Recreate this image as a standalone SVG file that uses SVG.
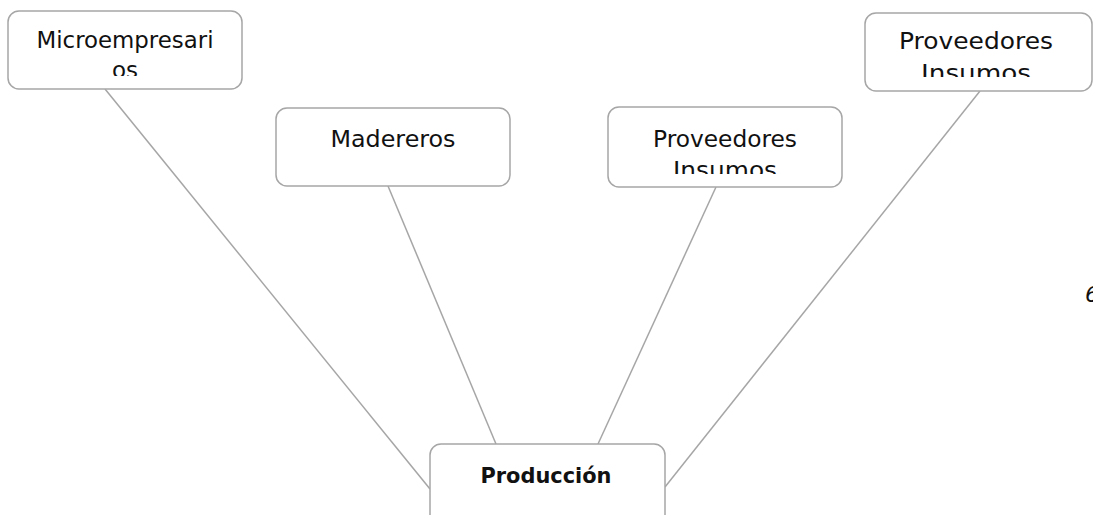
<svg xmlns="http://www.w3.org/2000/svg" width="1093" height="515" viewBox="0 0 1093 515">
<style>
.box{fill:#ffffff;stroke:#a6a6a6;stroke-width:1.5}
.lbl{font-family:"DejaVu Sans","Liberation Sans",sans-serif;font-size:23px;fill:#111111;text-anchor:middle}
.bold{font-family:"DejaVu Sans","Liberation Sans",sans-serif;font-size:22px;font-weight:bold;fill:#111111;text-anchor:middle}
.conn{stroke:#a6a6a6;stroke-width:1.5;fill:none}
</style>
<defs>
<clipPath id="c1"><rect x="8" y="11" width="234" height="65"/></clipPath>
<clipPath id="c3"><rect x="608" y="107" width="234" height="67"/></clipPath>
<clipPath id="c4"><rect x="865" y="13" width="228" height="64"/></clipPath>
</defs>
<g id="connectors">
<line class="conn" x1="105" y1="89" x2="430" y2="489"/>
<line class="conn" x1="388" y1="186" x2="496" y2="444"/>
<line class="conn" x1="716" y1="187" x2="598" y2="444"/>
<line class="conn" x1="980" y1="91" x2="665" y2="487"/>
</g>
<g id="n1">
<rect class="box" x="8" y="11" width="234" height="78" rx="11"/>
<g clip-path="url(#c1)">
<text class="lbl" x="125" y="48" textLength="177" lengthAdjust="spacingAndGlyphs">Microempresari</text>
<text class="lbl" x="125" y="78">os</text>
</g>
</g>
<g id="n2">
<rect class="box" x="276" y="108" width="234" height="78" rx="11"/>
<text class="lbl" x="393" y="147" textLength="125" lengthAdjust="spacingAndGlyphs">Madereros</text>
</g>
<g id="n3">
<rect class="box" x="608" y="107" width="234" height="80" rx="11"/>
<g clip-path="url(#c3)">
<text class="lbl" x="725" y="147" textLength="144" lengthAdjust="spacingAndGlyphs">Proveedores</text>
<text class="lbl" x="725" y="178" textLength="104" lengthAdjust="spacingAndGlyphs">Insumos</text>
</g>
</g>
<g id="n4">
<rect class="box" x="865" y="13" width="227" height="78" rx="11"/>
<g clip-path="url(#c4)">
<text class="lbl" x="976" y="49" textLength="154" lengthAdjust="spacingAndGlyphs">Proveedores</text>
<text class="lbl" x="976" y="81" textLength="110" lengthAdjust="spacingAndGlyphs">Insumos</text>
</g>
</g>
<g id="n5">
<rect class="box" x="430" y="444" width="235" height="90" rx="11"/>
<text class="bold" x="546" y="483" textLength="131" lengthAdjust="spacingAndGlyphs">Producción</text>
</g>
<text x="1085" y="302" font-family="DejaVu Sans, sans-serif" font-size="22" font-style="italic" fill="#111111">6</text>
</svg>
